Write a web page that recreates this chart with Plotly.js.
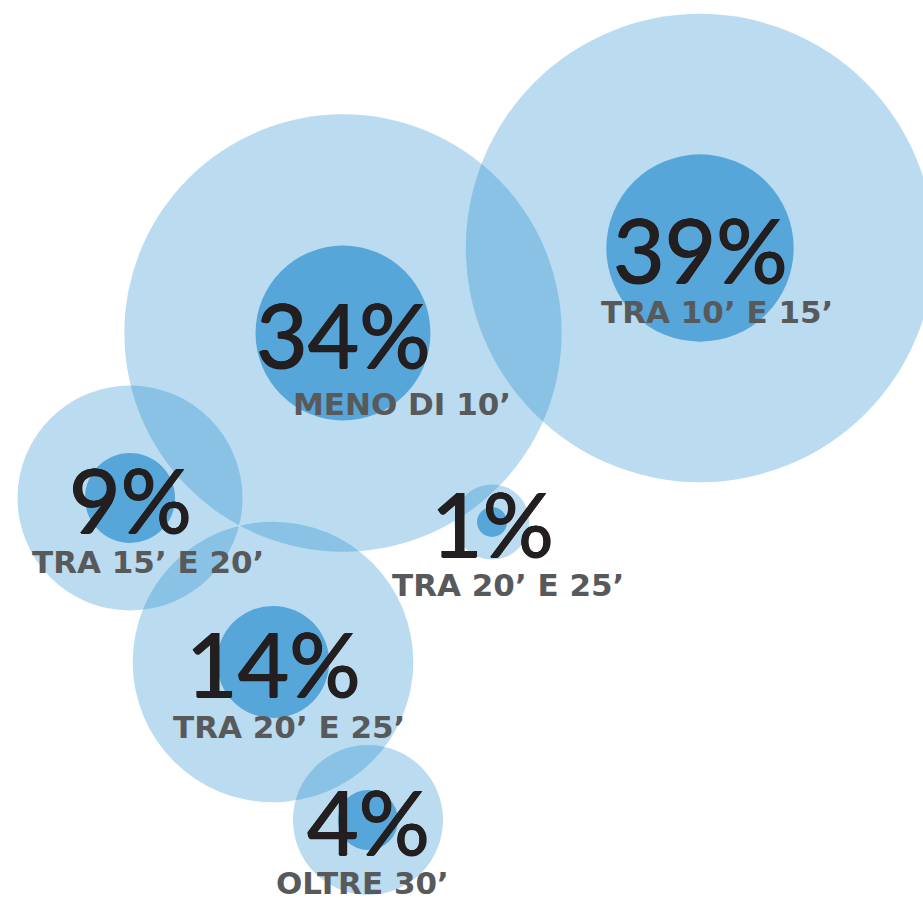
<!DOCTYPE html>
<html>
<head>
<meta charset="utf-8">
<script src="https://cdn.plot.ly/plotly-3.0.1.min.js"></script>
<style>html,body{margin:0;padding:0;background:#fff;}#chart{width:923px;height:898px;}</style>
</head>
<body>
<div id="chart"></div>
<script>
// Data
const categories = ["MENO DI 10’", "TRA 10’ E 15’", "TRA 15’ E 20’", "TRA 20’ E 25’", "TRA 20’ E 25’", "OLTRE 30’"];
const values = [34, 39, 9, 1, 14, 4];

// Layout (bubble placement, in pixel-like axis units)
const bubbleX = [343, 700, 130, 492, 273, 368];
const bubbleY = [333, 248, 498, 522, 662, 820];
const labelX = [402, 717, 148, 508, 289, 362];
const labelY = [404, 312, 562, 585, 727, 883];

const PX_PER_SQRT = 75;      // outer diameter per sqrt(value)
const INNER_RATIO = 0.4;

const outerSize = values.map(v => PX_PER_SQRT * Math.sqrt(v));
const innerSize = outerSize.map(s => s * INNER_RATIO);

const traces = [
  {
    type: 'scatter', mode: 'markers', x: bubbleX, y: bubbleY,
    marker: {size: outerSize, sizemode: 'diameter', color: 'rgba(28,135,205,0.3)', opacity: 1, line: {width: 0}},
    hoverinfo: 'skip', cliponaxis: false
  },
  {
    type: 'scatter', mode: 'markers', x: bubbleX, y: bubbleY,
    marker: {size: innerSize, sizemode: 'diameter', color: '#56a6d9', opacity: 1, line: {width: 0}},
    hoverinfo: 'skip', cliponaxis: false
  }
];

const annotations = [];
values.forEach((v, i) => {
  annotations.push({
    x: bubbleX[i], y: bubbleY[i], xref: 'x', yref: 'y', text: v + '%', showarrow: false,
    xanchor: 'center', yanchor: 'middle',
    font: {family: 'Lato, sans-serif', size: 89, color: '#231f20',
           shadow: '0.7px 0 0 #231f20, -0.7px 0 0 #231f20, 0 0.5px 0 #231f20, 0 -0.5px 0 #231f20'}
  });
  annotations.push({
    x: labelX[i], y: labelY[i], xref: 'x', yref: 'y', text: categories[i], showarrow: false,
    xanchor: 'center', yanchor: 'middle',
    font: {family: 'DejaVu Sans, sans-serif', size: 31, color: '#58595b', weight: 'bold'}
  });
});

const layout = {
  width: 923, height: 898,
  margin: {l: 0, r: 0, t: 0, b: 0},
  paper_bgcolor: '#ffffff', plot_bgcolor: '#ffffff',
  showlegend: false,
  xaxis: {range: [0, 923], visible: false, fixedrange: true},
  yaxis: {range: [898, 0], visible: false, fixedrange: true},
  annotations: annotations
};

Plotly.newPlot('chart', traces, layout, {displayModeBar: false, staticPlot: true});
</script>
</body>
</html>
